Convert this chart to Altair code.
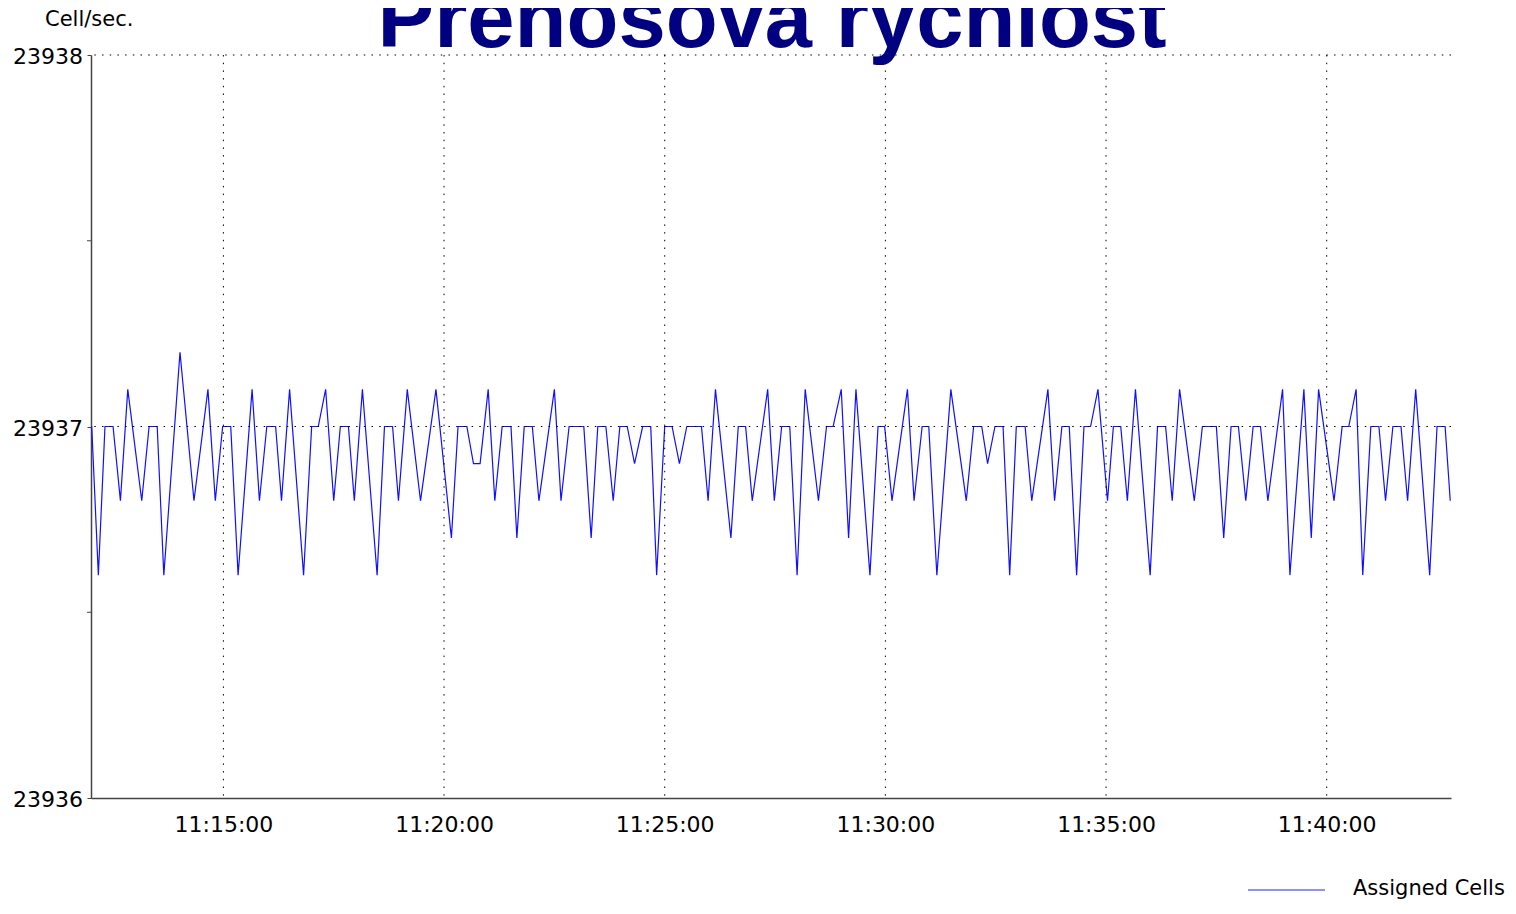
import altair as alt
import pandas as pd

# ---- data (seconds after 11:12:00, cells/sec) ----
secs = [1, 10, 19, 30, 40, 50, 69, 79, 90, 99, 121, 140, 159, 169, 179, 190, 200, 219, 229, 239,
        251, 259, 270, 289, 300, 309, 319, 330, 339, 350, 358, 369, 389, 399, 410, 418, 430, 448,
        469, 490, 499, 511, 520, 529, 540, 549, 559, 571, 579, 589, 600, 609, 630, 639, 650, 670,
        680, 689, 700, 710, 719, 729, 739, 750, 761, 769, 780, 790, 800, 810, 830, 839, 849, 870,
        880, 890, 899, 920,
        929, 939, 950, 960, 971, 989, 1000, 1009, 1020, 1030, 1040, 1059, 1070, 1079, 1089, 1110,
        1119, 1130, 1139, 1150, 1169, 1190, 1200, 1211, 1219, 1229, 1240, 1249, 1258, 1270, 1279,
        1301, 1310, 1320, 1330, 1340, 1350, 1359, 1369, 1382,
        1390, 1400, 1409, 1420, 1440, 1450, 1461, 1470, 1480, 1500, 1511, 1530, 1540, 1550, 1560,
        1570, 1580, 1590, 1600, 1620, 1630, 1649, 1659, 1669, 1690, 1701, 1710, 1720, 1729, 1740,
        1751, 1760, 1770, 1781, 1790, 1801, 1820, 1830, 1841, 1848]

cells = [23937.0, 23936.6, 23937.0, 23937.0, 23936.8, 23937.1, 23936.8, 23937.0, 23937.0, 23936.6,
         23937.2, 23936.8, 23937.1, 23936.8, 23937.0, 23937.0, 23936.6, 23937.1, 23936.8, 23937.0,
         23937.0, 23936.8, 23937.1, 23936.6, 23937.0, 23937.0, 23937.1, 23936.8, 23937.0, 23937.0,
         23936.8, 23937.1, 23936.6, 23937.0, 23937.0, 23936.8, 23937.1, 23936.8,
         23937.1, 23936.7, 23937.0, 23937.0, 23936.9, 23936.9, 23937.1, 23936.8, 23937.0, 23937.0,
         23936.7, 23937.0, 23937.0, 23936.8, 23937.1, 23936.8, 23937.0, 23937.0, 23936.7, 23937.0,
         23937.0, 23936.8, 23937.0, 23937.0, 23936.9, 23937.0, 23937.0, 23936.6, 23937.0, 23937.0,
         23936.9, 23937.0, 23937.0, 23936.8, 23937.1, 23936.7, 23937.0, 23937.0, 23936.8, 23937.1,
         23936.8, 23937.0, 23937.0, 23936.6, 23937.1, 23936.8, 23937.0, 23937.0, 23937.1, 23936.7,
         23937.1, 23936.6, 23937.0, 23937.0, 23936.8, 23937.1, 23936.8, 23937.0, 23937.0, 23936.6,
         23937.1, 23936.8, 23937.0, 23937.0, 23936.9, 23937.0, 23937.0, 23936.6, 23937.0, 23937.0,
         23936.8, 23937.1, 23936.8, 23937.0, 23937.0, 23936.6, 23937.0, 23937.0, 23937.1, 23936.8,
         23937.0, 23937.0, 23936.8, 23937.1, 23936.6, 23937.0, 23937.0, 23936.8, 23937.1, 23936.8,
         23937.0, 23937.0, 23936.7, 23937.0, 23937.0, 23936.8, 23937.0, 23937.0, 23936.8, 23937.1,
         23936.6, 23937.1, 23936.7, 23937.1, 23936.8, 23937.0, 23937.0, 23937.1, 23936.6, 23937.0,
         23937.0, 23936.8, 23937.0, 23937.0, 23936.8, 23937.1, 23936.6, 23937.0, 23937.0, 23936.8]

x_tick_minutes = [15, 20, 25, 30, 35, 40]
y_label_ticks = [23936, 23937, 23938]
y_minor_ticks = [23936.5, 23937.5]
y_grid = [23937, 23938]

title_text = "Přenosová rychlost"
unit_text = "Cell/sec."
series_name = "Assigned Cells"

# ---- build tables ----
start = pd.Timestamp("2000-01-01 11:12:00")
df = pd.DataFrame({
    "time": [(start + pd.Timedelta(seconds=s)).strftime("%Y-%m-%dT%H:%M:%S") for s in secs],
    "cells": cells,
})
vgrid = pd.DataFrame({"time": [f"2000-01-01T11:{m:02d}:00" for m in x_tick_minutes]})
hgrid = pd.DataFrame({"cells": y_grid})
minor = pd.DataFrame({"cells": y_minor_ticks})
ylab = pd.DataFrame({"cells": y_label_ticks, "label": [str(v) for v in y_label_ticks]})

FONT = "DejaVu Sans"
x_scale = alt.Scale(domain=[alt.DateTime(year=2000, month=1, date=1, hours=11, minutes=12, seconds=0),
                            alt.DateTime(year=2000, month=1, date=1, hours=11, minutes=42, seconds=49)])
y_scale = alt.Scale(domain=[23936, 23938], nice=False, zero=False)

x_values = [alt.DateTime(year=2000, month=1, date=1, hours=11, minutes=m) for m in x_tick_minutes]

x_axis = alt.Axis(values=x_values, format="%H:%M:%S", title=None, grid=False,
                  ticks=False, labelPadding=16, labelFont=FONT, labelFontSize=22,
                  labelColor="black", domainColor="#444444", domainWidth=1.5,
                  labelFlush=False, labelOverlap=False)
y_axis = alt.Axis(values=y_label_ticks, title=None, grid=False, labels=False,
                  tickSize=4, tickColor="#444444", domainColor="#444444",
                  domainWidth=1.5)

line = alt.Chart(df).mark_line(color="#1010ff", strokeWidth=1.2, clip=True).encode(
    x=alt.X("time:T", scale=x_scale, axis=x_axis),
    y=alt.Y("cells:Q", scale=y_scale, axis=y_axis),
)

vrules = alt.Chart(vgrid).mark_rule(color="black", strokeWidth=1, strokeDash=[1.5, 6.2]).encode(
    x=alt.X("time:T", scale=x_scale, axis=x_axis)
)
hrules = alt.Chart(hgrid).mark_rule(color="black", strokeWidth=1, strokeDash=[1.5, 6.2]).encode(
    y=alt.Y("cells:Q", scale=y_scale, axis=y_axis)
)
minor_ticks = alt.Chart(minor).mark_rule(color="#444444", strokeWidth=1).encode(
    y=alt.Y("cells:Q", scale=y_scale, axis=y_axis), x=alt.value(-4), x2=alt.value(0)
)
y_labels = alt.Chart(ylab).mark_text(
    font=FONT, fontSize=22, color="black", align="right", baseline="middle", dy=2
).encode(
    y=alt.Y("cells:Q", scale=y_scale, axis=y_axis), text="label:N", x=alt.value(-8)
)

title = alt.Chart(pd.DataFrame({"t": [title_text]})).mark_text(
    font="Liberation Sans", fontWeight="bold", fontSize=85, color="#000080",
    align="center", baseline="alphabetic"
).encode(text="t:N", x=alt.value(681), y=alt.value(-8))

unit = alt.Chart(pd.DataFrame({"t": [unit_text]})).mark_text(
    font=FONT, fontSize=21, color="black", align="left", baseline="middle"
).encode(text="t:N", x=alt.value(-46), y=alt.value(-35))

legend_line = alt.Chart(pd.DataFrame({"t": [series_name]})).mark_rule(
    color="#2020ff", strokeWidth=1
).encode(x=alt.value(1157), x2=alt.value(1234), y=alt.value(835))

legend_text = alt.Chart(pd.DataFrame({"t": [series_name]})).mark_text(
    font=FONT, fontSize=21, color="black", align="left", baseline="middle"
).encode(text="t:N", x=alt.value(1262), y=alt.value(834))

chart = alt.layer(line, hrules, vrules, minor_ticks, y_labels, title, unit, legend_line,
                  legend_text).properties(
    width=1360, height=743,
    padding={"left": 83, "top": 47, "right": 57, "bottom": 103},
    autosize=alt.AutoSizeParams(type="none"),
    background="white",
).configure_view(stroke="transparent")

chart.save("out.html", embed_options={"renderer": "svg", "actions": False})
